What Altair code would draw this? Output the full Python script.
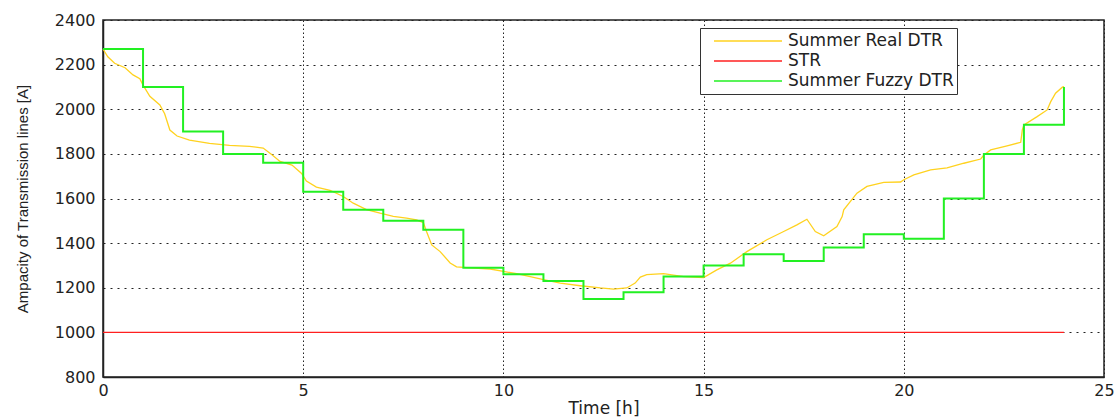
import altair as alt
import pandas as pd

# ---- data ----
series = ["Summer Real DTR", "STR", "Summer Fuzzy DTR"]
colors = ["#FFD21F", "#FF2020", "#22F022"]

real_t = [0.0, 0.12, 0.29, 0.55, 0.75, 0.92, 1.0, 1.17, 1.42, 1.54, 1.67, 1.85,
          2.16, 2.66, 3.16, 3.66, 4.0, 4.22, 4.42, 4.72, 4.96, 5.08, 5.33, 5.67,
          6.0, 6.25, 6.58, 6.92, 7.25, 7.58, 7.83, 8.0, 8.08, 8.21, 8.42, 8.67,
          8.83, 9.17, 9.67, 10.0, 10.33, 10.67, 11.0, 11.42, 11.92, 12.42, 12.75,
          13.08, 13.29, 13.42, 13.58, 14.0, 14.5, 15.0, 15.33, 15.67, 16.08, 16.58,
          17.0, 17.33, 17.58, 17.79, 18.0, 18.33, 18.46, 18.5, 18.83, 19.08, 19.5,
          19.92, 20.0, 20.25, 20.67, 21.08, 21.5, 21.92, 22.0, 22.17, 22.58, 22.92,
          22.96, 23.0, 23.33, 23.58, 23.67, 23.79, 23.96, 24.0]
real_v = [2270, 2235, 2206, 2186, 2154, 2137, 2108, 2058, 2019, 1980, 1907, 1880,
          1862, 1847, 1838, 1834, 1826, 1796, 1766, 1750, 1712, 1678, 1651, 1637,
          1609, 1579, 1550, 1534, 1520, 1512, 1504, 1492, 1452, 1392, 1362, 1311,
          1294, 1289, 1284, 1273, 1263, 1250, 1236, 1221, 1209, 1199, 1194,
          1199, 1221, 1248, 1259, 1263, 1250, 1246, 1280, 1310, 1362, 1415,
          1452, 1482, 1507, 1452, 1433, 1474, 1519, 1549, 1624, 1654, 1672,
          1674, 1684, 1706, 1728, 1737, 1758, 1777, 1795, 1818, 1836, 1852,
          1907, 1930, 1967, 1997, 2034, 2072, 2099, 2102]

str_t = [0, 24]
str_v = [1000, 1000]

fuzzy_t = list(range(25))
fuzzy_v = [2270, 2100, 1900, 1800, 1760, 1630, 1550, 1500, 1460, 1290, 1260, 1230,
           1150, 1180, 1250, 1300, 1350, 1320, 1380, 1440, 1420, 1600, 1800, 1930, 2100]

x_ticks = [0, 5, 10, 15, 20, 25]
y_ticks = [800, 1000, 1200, 1400, 1600, 1800, 2000, 2200, 2400]

real_df = pd.DataFrame({"t": real_t, "v": real_v, "s": series[0]})
str_df = pd.DataFrame({"t": str_t, "v": str_v, "s": series[1]})
fuzzy_df = pd.DataFrame({"t": fuzzy_t, "v": fuzzy_v, "s": series[2]})

x = alt.X("t:Q", scale=alt.Scale(domain=[0, 25], nice=False, zero=False),
          axis=alt.Axis(values=x_ticks, title="Time [h]", format="d", labelFlush=False))
y = alt.Y("v:Q", scale=alt.Scale(domain=[800, 2400], nice=False, zero=False),
          axis=alt.Axis(values=y_ticks, title="Ampacity of Transmission lines [A]",
                        format="d", labelFlush=False))
color = alt.Color(
    "s:N",
    scale=alt.Scale(domain=series, range=colors),
    legend=alt.Legend(
        title=None, orient="none", legendX=597, legendY=8,
        symbolType="stroke", symbolSize=4624, symbolStrokeWidth=1.5,
        clipHeight=20, rowPadding=0, padding=3, symbolOffset=10, labelOffset=5,
        labelLimit=400,
        labelFont="DejaVu Sans", labelFontSize=17, labelColor="#222",
        strokeColor="#333", fillColor="white", cornerRadius=0,
    ),
)

real = alt.Chart(real_df).mark_line(strokeWidth=1.3).encode(x=x, y=y, color=color)
strl = alt.Chart(str_df).mark_line(strokeWidth=1.2).encode(x=x, y=y, color=color)
fuzzy = alt.Chart(fuzzy_df).mark_line(strokeWidth=2, interpolate="step-after").encode(
    x=x, y=y, color=color)

chart = (
    alt.layer(real, strl, fuzzy)
    .properties(width=1001, height=357,
                autosize=alt.AutoSizeParams(type="none"),
                padding={"left": 103, "top": 20, "right": 15, "bottom": 40},
                background="white")
    .configure_view(stroke="#222", strokeWidth=1.5)
    .configure_axis(domainColor="#222", domainWidth=1.5, gridColor="#222",
                    gridOpacity=1, gridWidth=1, ticks=False,
                    labelFont="DejaVu Sans", labelFontSize=16, labelColor="#222",
                    titleFontWeight="normal", titleColor="#222")
    .configure_axisX(gridDash=[1.5, 2.5], labelPadding=5, titleFont="DejaVu Sans",
                     titleFontSize=17, titleY=23, titleBaseline="top")
    .configure_axisY(gridDash=[2, 5], labelPadding=8, titleFont="Liberation Sans",
                     titleFontSize=15, titleX=-73, titleY=178.5, titleBaseline="bottom")
)

chart.save("out.html", embed_options={"renderer": "svg", "actions": False})
